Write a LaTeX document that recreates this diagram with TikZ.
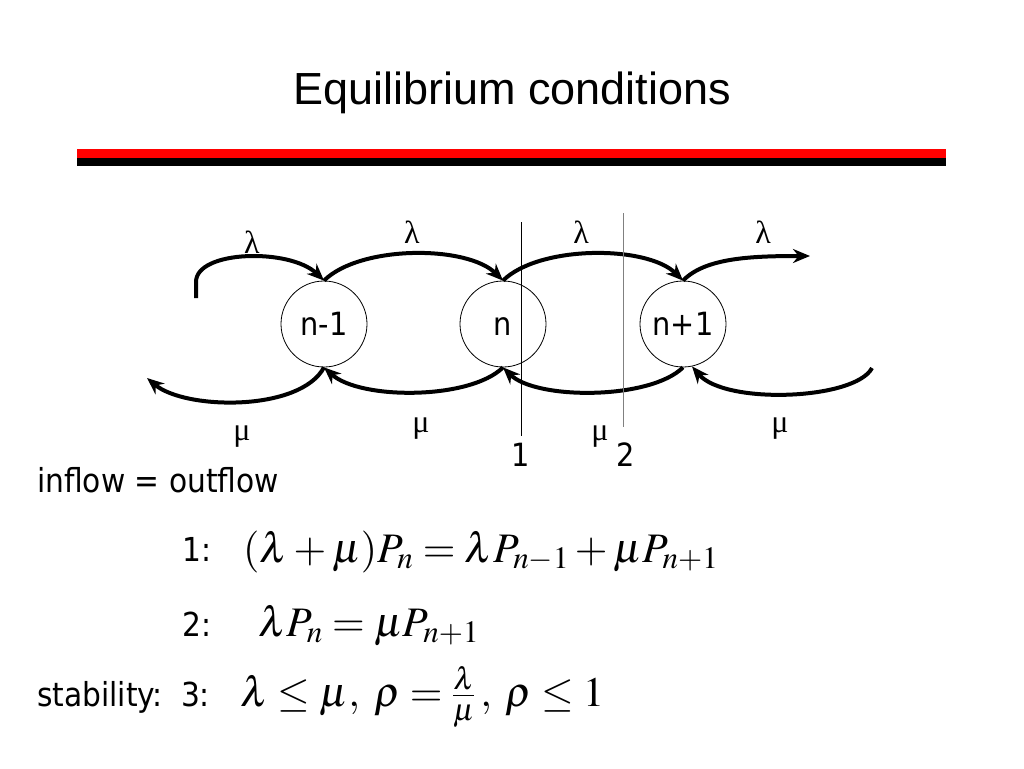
\documentclass[tikz,border=0pt]{standalone}
\usepackage{mathptmx}
\usepackage{fontspec}
\setmainfont{DejaVu Sans Condensed}
\newfontfamily\ratefont{Liberation Serif}
\newfontfamily\titlefont{Liberation Sans}
\usetikzlibrary{arrows.meta}

\tikzset{
  state/.style={draw, circle, line width=0.8pt, minimum size=86pt, inner sep=0pt, text height=22pt, text depth=0pt, font=\fontsize{32}{36}\selectfont},
  flow/.style={line width=4pt, -{Stealth[length=17pt,width=14pt]}},
  rate/.style={font=\ratefont\fontsize{32}{36}\selectfont},
  cut/.style={line width=1pt},
  txt/.style={font=\fontsize{33}{38}\selectfont, anchor=base west, inner sep=0pt},
  eq/.style={font=\fontsize{42}{50}\selectfont, anchor=base west, inner sep=0pt},
}

\begin{document}
\begin{tikzpicture}[x=1pt,y=-1pt]
    \useasboundingbox (0,0) rectangle (1024,768);
    
    % title and bars
    \node (title) at (512,93) {\titlefont\fontsize{45}{52}\selectfont Equilibrium conditions};
    \fill[red] (77,149) rectangle (946,158);
    \fill[black] (77,158) rectangle (946,166);
    
    % states
    \node[state] (nm1) at (324,324) {n-1};
    \node[state] (n) at (503,324) {n};
    \node[state] (np1) at (683,324) {n+1};
    
    \coordinate (inL) at (196,298);
    \coordinate (outR) at (810,256);
    \coordinate (outL) at (147,378);
    \coordinate (inR) at (872,368);
    
    % arrivals
    \draw[flow] (inL) -- (196,282) .. controls (196,250) and (290,248) .. (nm1.north);
    \draw[flow] (nm1.north) .. controls (360,245) and (467,245) .. (n.north);
    \draw[flow] (n.north) .. controls (539,245) and (647,245) .. (np1.north);
    \draw[flow] (np1.north) .. controls (705,258) and (750,256) .. (outR);
    
    % services
    \draw[flow] (n.south) .. controls (470,400) and (360,400) .. (nm1.south);
    \draw[flow] (np1.south) .. controls (650,400) and (536,400) .. (n.south);
    \draw[flow] (inR) .. controls (855,400) and (725,405) .. (np1.-78);
    \draw[flow] (nm1.south) .. controls (300,412) and (185,410) .. (outL);
    
    \node[rate] (lam1) at (252,242) {λ};
    \node[rate] (lam2) at (412,232) {λ};
    \node[rate] (lam3) at (581,232) {λ};
    \node[rate] (lam4) at (763,232) {λ};
    \node[rate] (mu1) at (242,437) {μ};
    \node[rate] (mu2) at (421,429) {μ};
    \node[rate] (mu3) at (600,437) {μ};
    \node[rate] (mu4) at (780,429) {μ};
    
    % cuts
    \coordinate (cutAtop) at (521,222);
    \coordinate (cutAbot) at (521,436);
    \coordinate (cutBtop) at (623,213);
    \coordinate (cutBbot) at (623,427);
    \draw[cut] (cutAtop) -- (cutAbot);
    \draw[cut, gray] (cutBtop) -- (cutBbot);
    \node[font=\fontsize{32}{36}\selectfont] (cutA) at (521,455) {1};
    \node[font=\fontsize{32}{36}\selectfont] (cutB) at (626,455) {2};
    
    % equations
    \node[txt] (balance) at (37,492) {inflow = outflow};
    \node[txt] (lab1) at (182,561) {1:};
    \node[txt] (lab2) at (182,636) {2:};
    \node[txt] (lab3) at (37,706) {stability:\hspace{0.55em}3:};
    \node[eq] (eq1) at (243,562) {$(\lambda+\mu)P_n=\lambda P_{n-1}+\mu P_{n+1}$};
    \node[eq] (eq2) at (258,636) {$\lambda P_n=\mu P_{n+1}$};
    \node[eq] (eq3) at (240,706) {$\lambda\le\mu,\;\rho=\frac{\lambda}{\mu}\,,\;\rho\le 1$};
    
\end{tikzpicture}
\end{document}
